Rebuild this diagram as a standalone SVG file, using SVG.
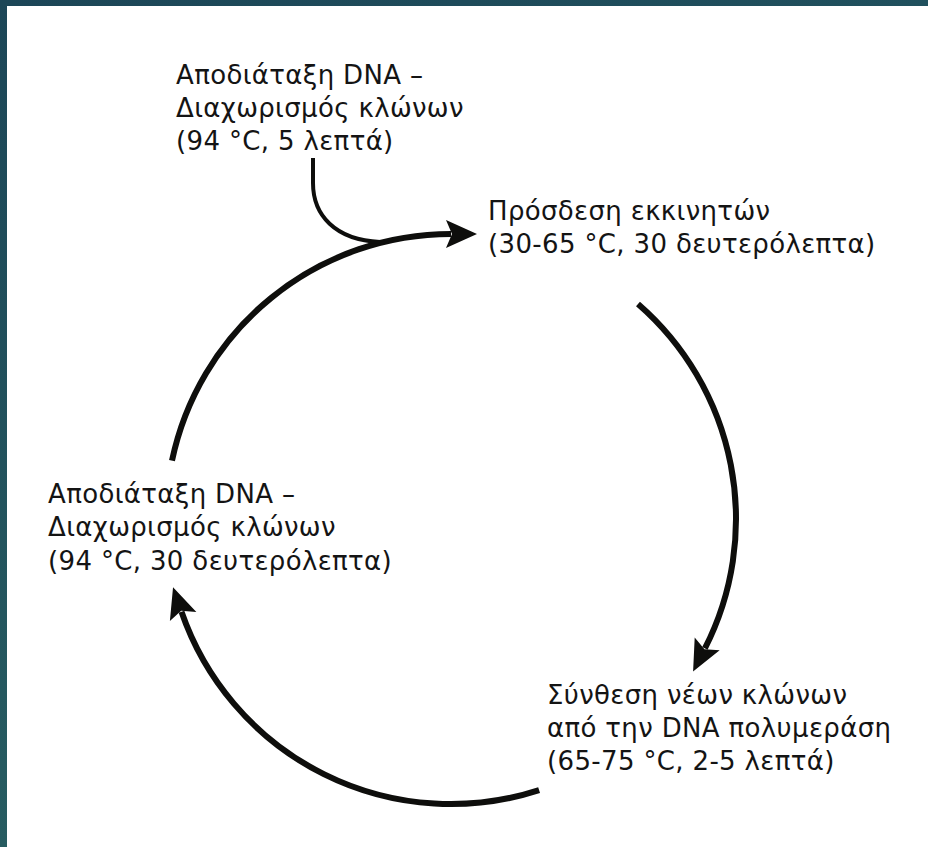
<svg xmlns="http://www.w3.org/2000/svg" width="928" height="847" viewBox="0 0 928 847">
  <defs>
    <style>
      .lbl { font-family: "DejaVu Sans", Verdana, sans-serif; font-size: 26px; letter-spacing: 0.35px; fill: #141414; }
      .main { fill: none; stroke: #0e0e0c; stroke-width: 6; }
      .thin { fill: none; stroke: #0e0e0c; stroke-width: 4; }
    </style>
    <marker id="head" markerUnits="userSpaceOnUse" markerWidth="40" markerHeight="40" refX="0" refY="0" viewBox="-10 -20 40 40" orient="auto" overflow="visible">
      <path d="M-5,-14 L26,0 L-5,14 L1,0 Z" fill="#0e0e0c"/>
    </marker>
    <linearGradient id="leftbar" x1="0" y1="0" x2="0" y2="1">
      <stop offset="0" stop-color="#1c4657"/>
      <stop offset="1" stop-color="#275c61"/>
    </linearGradient>
    <linearGradient id="topbar" x1="0" y1="0" x2="1" y2="0">
      <stop offset="0" stop-color="#1c4657"/>
      <stop offset="1" stop-color="#20505d"/>
    </linearGradient>
  </defs>
  <rect x="0" y="0" width="928" height="847" fill="#ffffff"/>
  <rect x="0" y="0" width="928" height="6" fill="url(#topbar)"/>
  <rect x="0" y="0" width="7" height="847" fill="url(#leftbar)"/>

  <g id="connectors">
    <path class="main" d="M172,460.7 A285,285 0 0 1 451,234" marker-end="url(#head)"/>
    <path class="main" d="M638,303.9 A285,285 0 0 1 704.9,648.4" marker-end="url(#head)"/>
    <path class="main" d="M539.1,790.1 A285,285 0 0 1 181.5,611.8" marker-end="url(#head)"/>
    <path class="thin" d="M313,158 V183 C313,215 335,240 380,242"/>
  </g>

  <g id="node-initial-denaturation">
    <text class="lbl" x="176" y="84">Αποδιάταξη DNA –</text>
    <text class="lbl" x="176" y="117">Διαχωρισμός κλώνων</text>
    <text class="lbl" x="176" y="150">(94 °C, 5 λεπτά)</text>
  </g>
  <g id="node-annealing">
    <text class="lbl" x="488" y="220">Πρόσδεση εκκινητών</text>
    <text class="lbl" x="488" y="253">(30-65 °C, 30 δευτερόλεπτα)</text>
  </g>
  <g id="node-extension">
    <text class="lbl" x="547" y="704">Σύνθεση νέων κλώνων</text>
    <text class="lbl" x="547" y="737">από την DNA πολυμεράση</text>
    <text class="lbl" x="547" y="770">(65-75 °C, 2-5 λεπτά)</text>
  </g>
  <g id="node-denaturation">
    <text class="lbl" x="48" y="503">Αποδιάταξη DNA –</text>
    <text class="lbl" x="48" y="536">Διαχωρισμός κλώνων</text>
    <text class="lbl" x="48" y="570">(94 °C, 30 δευτερόλεπτα)</text>
  </g>
</svg>
